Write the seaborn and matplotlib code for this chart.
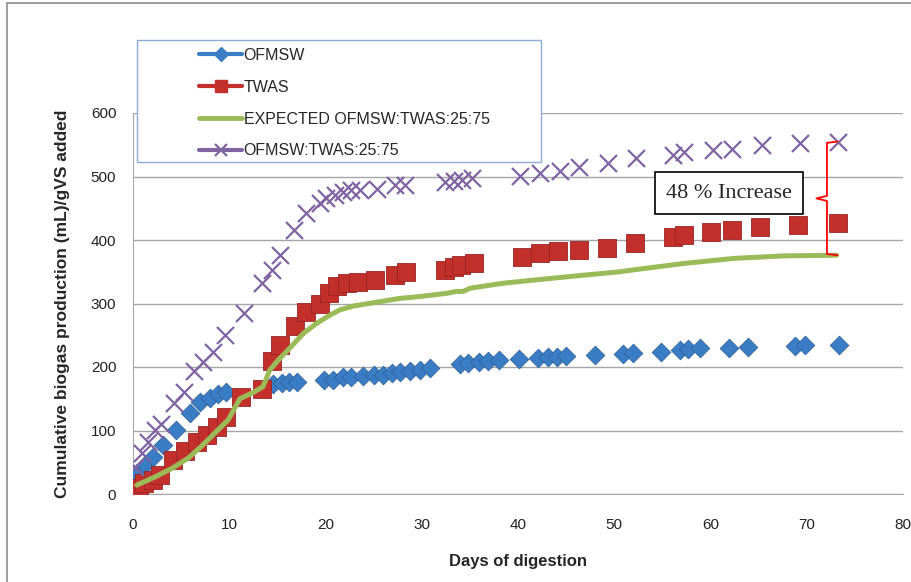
import matplotlib
matplotlib.use("Agg")
import matplotlib.pyplot as plt
from matplotlib.lines import Line2D
from matplotlib.patches import Rectangle
import seaborn as sns

# Data
ofmsw_days = [0.4, 1.2, 2.1, 3.1, 4.5, 5.9, 7.0, 8.0, 8.8, 9.7, 14.5, 15.5, 16.2, 17.0,
              19.8, 20.8, 21.8, 22.7, 23.9, 25.0, 26.0, 26.9, 27.7, 28.8, 29.8, 30.9,
              34.0, 34.8, 35.9, 36.9, 38.0, 40.1, 42.1, 43.1, 44.0, 45.0, 48.0, 50.9,
              51.9, 54.9, 56.8, 57.7, 58.9, 61.9, 63.9, 68.8, 69.8, 73.3]
ofmsw_vals = [33, 46, 59, 77, 101, 127, 145, 151, 157, 160, 173, 175, 176, 177,
              180, 180, 184, 185, 186, 187, 188, 190, 192, 194, 196, 198,
              204, 207, 208, 210, 211, 213, 214, 215, 216, 217, 219, 220,
              222, 224, 227, 228, 230, 230, 231, 233, 234, 234]

twas_days = [0.2, 0.6, 1.1, 2.1, 2.8, 4.2, 5.4, 6.6, 7.7, 8.7, 9.7, 11.2, 13.4, 14.4,
             15.3, 16.8, 18.0, 19.4, 20.4, 21.2, 22.2, 23.4, 25.1, 27.2, 28.4, 32.4,
             33.3, 34.1, 35.4, 40.4, 42.3, 44.2, 46.3, 49.2, 52.2, 56.1, 57.2, 60.1,
             62.2, 65.1, 69.1, 73.2]
twas_vals = [4, 10, 17, 22, 30, 54, 67, 82, 93, 106, 122, 153, 165, 210,
             235, 265, 287, 300, 316, 328, 332, 334, 337, 345, 349, 353,
             358, 361, 363, 374, 379, 382, 385, 388, 395, 405, 408, 413,
             415, 421, 424, 426]

expected_days = [0.4, 2.3, 4.0, 5.7, 7.1, 8.5, 9.9, 11.1, 12.5, 13.5, 14.2, 15.1, 16.3,
                 17.7, 19.1, 20.5, 21.5, 22.9, 24.9, 27.7, 29.8, 32.6, 33.6, 34.3, 35.0,
                 38.5, 43.7, 47.1, 50.6, 52.0, 57.2, 62.4, 67.6, 73.1]
expected_vals = [14, 27, 40, 56, 75, 96, 117, 150, 160, 169, 195, 211, 230,
                 253, 269, 282, 290, 296, 301, 308, 311, 316, 319, 319, 324,
                 332, 340, 345, 350, 353, 363, 371, 375, 376]

mix_days = [0.2, 0.9, 1.6, 2.3, 2.9, 4.3, 5.3, 6.3, 7.3, 8.3, 9.6, 11.5, 13.4, 14.4,
            15.3, 16.7, 18.0, 19.4, 20.1, 21.0, 21.8, 22.7, 23.6, 25.3, 27.2, 28.3,
            32.4, 33.3, 34.2, 35.2, 40.2, 42.3, 44.4, 46.3, 49.3, 52.3, 56.1, 57.2,
            60.3, 62.2, 65.3, 69.3, 73.2]
mix_vals = [43, 64, 82, 101, 111, 143, 160, 193, 208, 224, 250, 285, 332, 353,
            376, 416, 442, 458, 466, 471, 475, 478, 479, 480, 487, 486,
            492, 493, 495, 497, 501, 505, 508, 515, 521, 529, 534, 539,
            542, 544, 550, 552, 555]

LABELS = ["OFMSW", "TWAS", "EXPECTED OFMSW:TWAS:25:75", "OFMSW:TWAS:25:75"]
BLUE = "#3B7DC4"
RED = "#C3302C"
GREEN = "#9BBB59"
PURPLE = "#8064A2"


def main():
    sns.set_style("white")
    plt.rcParams["font.family"] = ["Liberation Sans", "DejaVu Sans"]

    fig = plt.figure(figsize=(9.11, 5.82), dpi=100)
    ax = fig.add_axes([133 / 911, 1 - 494 / 582, 770 / 911, 381 / 582])

    sns.scatterplot(x=ofmsw_days, y=ofmsw_vals, marker="D", s=90, color=BLUE,
                    edgecolor="#2E64A0", linewidth=0.6, ax=ax, zorder=3)
    sns.scatterplot(x=twas_days, y=twas_vals, marker="s", s=150, color=RED,
                    edgecolor="#9A2522", linewidth=0.6, ax=ax, zorder=4)
    sns.lineplot(x=expected_days, y=expected_vals, sort=False, color=GREEN,
                 linewidth=3.6, ax=ax, zorder=5, solid_capstyle="round")
    sns.scatterplot(x=mix_days, y=mix_vals, marker="x", s=150, color=PURPLE,
                    linewidth=1.6, ax=ax, zorder=6)

    ax.set_xlim(0, 80)
    ax.set_ylim(0, 600)
    ax.set_xticks(range(0, 81, 10))
    ax.set_yticks(range(0, 601, 100))
    ax.yaxis.grid(True, color="#A6A6A6", linewidth=1)
    ax.xaxis.grid(False)
    for side in ["top", "right"]:
        ax.spines[side].set_visible(False)
    ax.spines["left"].set_color("#A6A6A6")
    ax.spines["bottom"].set_color("#A6A6A6")
    ax.tick_params(axis="both", length=4, color="#A6A6A6", labelsize=11,
                   labelcolor="#222222", direction="out")
    ax.tick_params(axis="x", pad=13)
    ax.tick_params(axis="y", pad=8)
    ax.set_xlabel("Days of digestion", fontsize=12, fontweight="bold", labelpad=16)
    ax.set_ylabel("Cumulative biogas production (mL)/gVS added", fontsize=12.5,
                  fontweight="bold", labelpad=15)

    # red brace between expected and measured end values
    x_end = mix_days[-1]
    top, bottom = mix_vals[-1], expected_vals[-1]
    mid = (top + bottom) / 2
    bx = x_end - 1.1
    ax.plot([x_end, bx, bx, bx - 1.1, bx, bx, x_end],
            [top, top - 2, mid + 4, mid, mid - 4, bottom + 2, bottom],
            color="red", linewidth=1.3, zorder=7)

    ax.text(61.9, 474, "48 % Increase", fontsize=16, family="Liberation Serif",
            ha="center", va="center", zorder=8,
            bbox=dict(boxstyle="square,pad=0.5", facecolor="white",
                      edgecolor="black", linewidth=1.2))

    # legend with separate frame like the original
    fig.patches.append(Rectangle((137 / 911, 1 - 162 / 582), 404 / 911, 122 / 582,
                                 transform=fig.transFigure, facecolor="white",
                                 edgecolor="#8EAAD6", linewidth=1, zorder=10))
    handles = [
        Line2D([], [], color=BLUE, marker="D", markersize=7, linewidth=3),
        Line2D([], [], color=RED, marker="s", markersize=8, linewidth=3),
        Line2D([], [], color=GREEN, linewidth=3.5),
        Line2D([], [], color=PURPLE, marker="x", markersize=9, markeredgewidth=1.6, linewidth=3),
    ]
    leg = fig.legend(handles, LABELS, loc="upper left",
                     bbox_to_anchor=(199 / 911, 1 - 48 / 582), frameon=False,
                     fontsize=11.5, handlelength=2.7, handletextpad=0.1,
                     labelspacing=1.05, borderpad=0, borderaxespad=0)
    leg.set_zorder(11)

    # outer chart frame
    fig.patches.append(Rectangle((7 / 911, -0.05), 1.2, 1.05 - 3 / 582,
                                 transform=fig.transFigure, facecolor="none",
                                 edgecolor="#8C8C8C", linewidth=1.2, zorder=0))

    fig.savefig("out.png", dpi=100)
    plt.close(fig)


if __name__ == "__main__":
    main()
